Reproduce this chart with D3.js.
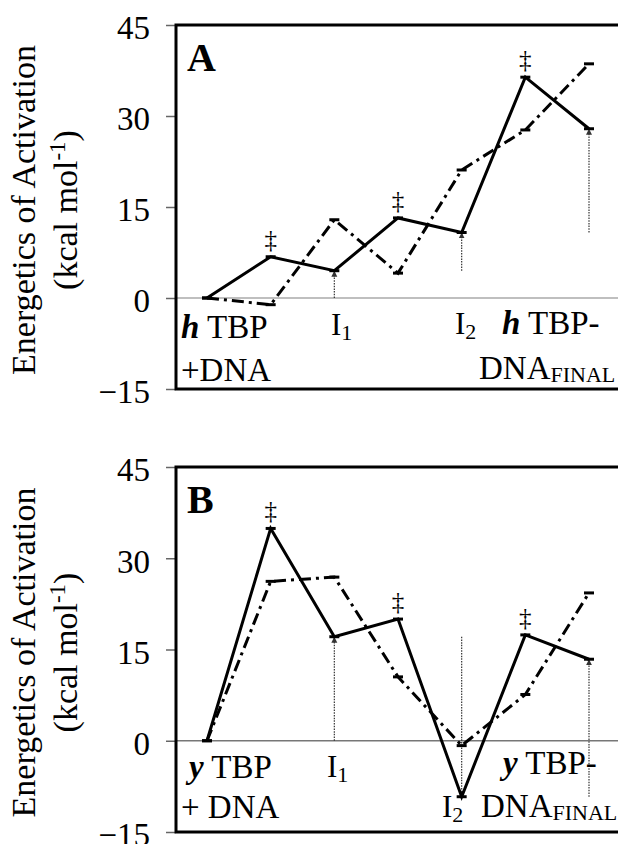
<!DOCTYPE html>
<html>
<head>
<meta charset="utf-8">
<script src="https://cdn.jsdelivr.net/npm/d3@7"></script>
<style>
  body { margin: 0; background: #fff; }
  text { font-family: "Liberation Serif", "Times New Roman", Times, serif; fill: #000; }
</style>
</head>
<body>
<div id="graph"></div>
<script>
// reaction coordinate: start, TS1, I1, TS2, I2, TS3, final complex
const states = ["start", "ts1", "I1", "ts2", "I2", "ts3", "final"];
const transitionStates = ["ts1", "ts2", "ts3"];
const intermediates = ["start", "I1", "I2", "final"];
const yTicks = [-15, 0, 15, 30, 45];

// panel A (h TBP)
const solidA = [0, 6.8, 4.5, 13.2, 10.8, 36.4, 27.9];
const dashA = [0, -1.1, 12.9, 4.1, 21.1, 27.7, 38.6];

// panel B (y TBP)
const solidB = [0, 34.9, 17.1, 20.0, -9.2, 17.4, 13.4];
const dashB = [0, 26.2, 26.9, 10.5, -0.8, 7.6, 24.3];

const width = 618, height = 844;
const frameLeft = 176;

const svg = d3.select("#graph")
  .append("svg")
    .attr("width", width)
    .attr("height", height);

svg.append("defs").append("marker")
    .attr("id", "arrow")
    .attr("viewBox", "0 0 6 6")
    .attr("refX", 6).attr("refY", 3)
    .attr("markerUnits", "userSpaceOnUse")
    .attr("markerWidth", 6).attr("markerHeight", 7)
    .attr("orient", "auto")
  .append("path")
    .attr("d", "M0,0L6,3L0,6Z")
    .attr("fill", "#333");

const x = d3.scalePoint().domain(states).range([207, 589]);

const panels = [
  {letter: "A", top: 25, bottom: 389, zero: "#aaa", solid: solidA, dash: dashA,
   labels: [
     {x: 181, y: 338, parts: [["h", "bi"], [" TBP"]]},
     {x: 181, y: 381, parts: [["+DNA"]]},
     {x: 331, y: 335, parts: [["I", "i"], ["1", "sub"]]},
     {x: 455, y: 334, parts: [["I", "i"], ["2", "sub"]]},
     {x: 502, y: 334, parts: [["h", "bi"], [" TBP-"]]},
     {x: 479, y: 379, parts: [["DNA"], ["FINAL", "fin"]]}
   ]},
  {letter: "B", top: 467, bottom: 832, zero: "#777", solid: solidB, dash: dashB,
   labels: [
     {x: 189, y: 778, parts: [["y", "bi"], [" TBP"]]},
     {x: 181, y: 818, parts: [["+ DNA"]]},
     {x: 327, y: 777, parts: [["I", "i"], ["1", "sub"]]},
     {x: 442, y: 817, parts: [["I", "i"], ["2", "sub"]]},
     {x: 503, y: 774, parts: [["y", "bi"], [" TBP-"]]},
     {x: 481, y: 817, parts: [["DNA"], ["FINAL", "fin"]]}
   ]}
];

panels.forEach(p => {
  const y = d3.scaleLinear().domain([-15, 45]).range([p.bottom, p.top]);
  const g = svg.append("g");
  const pts = states.map((s, i) => ({s: s, solid: p.solid[i], dash: p.dash[i]}));

  // y axis ticks
  const axis = g.append("g")
    .attr("transform", `translate(${frameLeft},0)`)
    .call(d3.axisLeft(y).tickValues(yTicks).tickSize(10).tickPadding(16));
  axis.select(".domain").remove();
  axis.selectAll("line").attr("stroke", "#666").attr("stroke-width", 1.5);
  axis.selectAll("text")
    .attr("fill", "#000")
    .attr("dy", "0.42em")
    .style("font-family", '"Liberation Serif", "Times New Roman", serif')
    .style("font-size", "33px");

  // zero line
  g.append("line")
    .attr("x1", frameLeft).attr("x2", width)
    .attr("y1", y(0)).attr("y2", y(0))
    .attr("stroke", p.zero).attr("stroke-width", 1.3);

  // dotted arrows between successive intermediates
  const inter = pts.filter(d => intermediates.includes(d.s));
  g.selectAll(".step")
    .data(inter.slice(1).map((d, i) => ({s: d.s, from: inter[i].solid, to: d.solid})))
    .join("line")
      .attr("x1", d => x(d.s)).attr("x2", d => x(d.s))
      .attr("y1", d => y(d.from)).attr("y2", d => y(d.to))
      .attr("stroke", "#333").attr("stroke-width", 1.2)
      .attr("stroke-dasharray", "1.5,1.2")
      .attr("marker-end", "url(#arrow)");

  // dash-dot profile
  g.append("path")
    .datum(pts)
    .attr("fill", "none")
    .attr("stroke", "#000").attr("stroke-width", 3)
    .attr("stroke-dasharray", "12,5,3,5")
    .attr("d", d3.line().x(d => x(d.s)).y(d => y(d.dash)));

  // solid profile
  g.append("path")
    .datum(pts)
    .attr("fill", "none")
    .attr("stroke", "#000").attr("stroke-width", 3)
    .attr("d", d3.line().x(d => x(d.s)).y(d => y(d.solid)));

  // short horizontal markers at every vertex
  ["solid", "dash"].forEach(k => {
    g.selectAll(".mk-" + k)
      .data(pts)
      .join("line")
        .attr("x1", d => x(d.s) - 5).attr("x2", d => x(d.s) + 5)
        .attr("y1", d => y(d[k])).attr("y2", d => y(d[k]))
        .attr("stroke", "#000").attr("stroke-width", 3);
  });

  // double daggers over transition states
  g.selectAll(".dagger")
    .data(pts.filter(d => transitionStates.includes(d.s)))
    .join("text")
      .attr("x", d => x(d.s))
      .attr("y", d => y(d.solid) - 9)
      .attr("text-anchor", "middle")
      .style("font-size", "25px")
      .text("\u2021");

  // state labels
  p.labels.forEach(l => {
    const t = g.append("text").attr("x", l.x).attr("y", l.y).style("font-size", "33px");
    l.parts.forEach(([txt, kind]) => {
      const ts = t.append("tspan").text(txt);
      if (kind === "bi") ts.style("font-weight", "bold").style("font-style", "italic");
      if (kind === "i") ts.style("font-size", "31px");
      if (kind === "sub") ts.style("font-size", "22px").attr("dy", 5);
      if (kind === "fin") ts.style("font-size", "22px").attr("dy", 3);
    });
  });

  // panel letter
  g.append("text")
    .attr("x", 187).attr("y", p.top + 46)
    .style("font-size", "40px").style("font-weight", "bold")
    .text(p.letter);

  // y axis title
  const cy = (p.top + p.bottom) / 2 + 3;
  const title = g.append("text")
    .attr("transform", `translate(35,${cy}) rotate(-90)`)
    .attr("text-anchor", "middle")
    .style("font-size", "34px");
  title.append("tspan").attr("x", 0).attr("y", 0).text("Energetics of Activation");
  const l2 = title.append("tspan").attr("x", 0).attr("y", 42);
  l2.append("tspan").text("(kcal mol");
  l2.append("tspan").attr("dy", -12).style("font-size", "23px").text("-1");
  l2.append("tspan").attr("dy", 12).text(")");

  // frame (right side runs past the page edge)
  g.append("rect")
    .attr("x", frameLeft).attr("y", p.top)
    .attr("width", 460).attr("height", p.bottom - p.top)
    .attr("fill", "none")
    .attr("stroke", "#000").attr("stroke-width", 3);
});
</script>
</body>
</html>
